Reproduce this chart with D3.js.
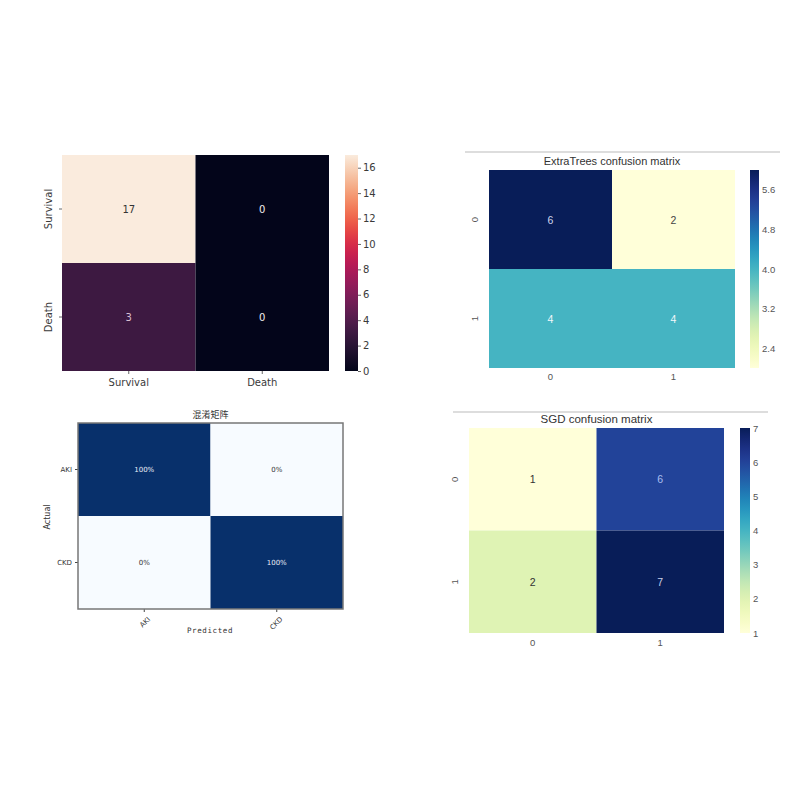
<!DOCTYPE html>
<html><head><meta charset="utf-8">
<script src="https://cdn.jsdelivr.net/npm/d3@7"></script>
<style>body{margin:0;background:#fff}svg{display:block}</style>
</head><body>
<svg id="c" width="806" height="806"></svg>
<script>
// ---------- DATA ----------
const p1Labels = ["Survival", "Death"];
const p1Values = [[17, 0], [3, 0]];
const p1Ticks = [0, 2, 4, 6, 8, 10, 12, 14, 16];

const p2Title = "ExtraTrees confusion matrix";
const p2Labels = ["0", "1"];
const p2Values = [[6, 2], [4, 4]];
const p2Ticks = [2.4, 3.2, 4.0, 4.8, 5.6];

const p3Title = "混淆矩阵";
const p3Labels = ["AKI", "CKD"];
const p3Values = [[1.0, 0.0], [0.0, 1.0]];
const p3Text = [["100%", "0%"], ["0%", "100%"]];

const p4Title = "SGD confusion matrix";
const p4Labels = ["0", "1"];
const p4Values = [[1, 6], [2, 7]];
const p4Ticks = [1, 2, 3, 4, 5, 6, 7];

// ---------- HELPERS ----------
const svg = d3.select("#c");
const defs = svg.append("defs");
const rocketStops = ["#03051A","#221331","#451C47","#6A1F56","#921C5B","#B91657","#DD2C45","#F06043","#F4936A","#F6C19F","#FAEBDD"];
const rocket = d3.interpolateRgbBasis(rocketStops);

function heatmap(o) {
  const g = svg.append("g");
  const x = d3.scaleBand().domain(o.labels).range([o.x0, o.x1]);
  const y = d3.scaleBand().domain(o.labels).range([o.y0, o.y1]);
  const color = d3.scaleSequential(o.interp).domain(o.domain);
  const cells = [];
  o.values.forEach((row, i) => row.forEach((v, j) => cells.push({r: o.labels[i], c: o.labels[j], v, i, j})));
  g.selectAll("rect.cell").data(cells).join("rect")
    .attr("x", d => x(d.c)).attr("y", d => y(d.r))
    .attr("width", x.bandwidth()).attr("height", y.bandwidth())
    .attr("fill", d => color(d.v));
  g.selectAll("text.cell").data(cells).join("text")
    .attr("x", d => x(d.c) + x.bandwidth() / 2)
    .attr("y", d => y(d.r) + y.bandwidth() / 2)
    .attr("text-anchor", "middle").attr("dominant-baseline", "central")
    .attr("font-family", o.font).attr("font-size", o.cellFont)
    .attr("fill", d => o.textColor(d))
    .text(d => o.text ? o.text[d.i][d.j] : d.v);
  const ax = g.append("g").attr("class", "xaxis").attr("transform", `translate(0,${o.y1})`)
    .call(d3.axisBottom(x).tickSize(o.tickLen).tickPadding(o.xPad));
  const ay = g.append("g").attr("transform", `translate(${o.x0},0)`)
    .call(d3.axisLeft(y).tickSize(o.tickLen).tickPadding(o.yPad));
  [ax, ay].forEach(a => {
    a.select(".domain").remove();
    a.selectAll("line").attr("stroke", o.tickColor);
    a.selectAll("text").attr("font-family", o.font).attr("font-size", o.tickFont).attr("fill", o.labelColor);
  });
  if (o.rotateY) {
    ay.selectAll("text").attr("text-anchor", "middle").attr("dy", 0)
      .attr("transform", function() {
        const t = d3.select(this); const xx = +t.attr("x");
        return `translate(${xx - 3},0) rotate(-90)`;
      }).attr("x", 0);
  }
  if (o.colorbar) {
    const cb = o.colorbar;
    const id = "grad" + cb.id;
    const lg = defs.append("linearGradient").attr("id", id).attr("x1", 0).attr("y1", 1).attr("x2", 0).attr("y2", 0);
    d3.range(0, 1.0001, 0.05).forEach(t => lg.append("stop").attr("offset", t).attr("stop-color", o.interp(t)));
    g.append("rect").attr("x", cb.x).attr("y", o.y0).attr("width", cb.w).attr("height", o.y1 - o.y0).attr("fill", `url(#${id})`);
    const cs = d3.scaleLinear().domain(o.domain).range([o.y1, o.y0]);
    const ac = g.append("g").attr("transform", `translate(${cb.x + cb.w},0)`)
      .call(d3.axisRight(cs).tickValues(cb.ticks).tickFormat(cb.fmt).tickSize(cb.tickLen).tickPadding(cb.pad || 2));
    ac.select(".domain").remove();
    ac.selectAll("line").attr("stroke", o.tickColor);
    ac.selectAll("text").attr("font-family", o.font).attr("font-size", o.tickFont).attr("fill", o.labelColor);
  }
  if (o.title) {
    g.append("text").attr("x", (o.x0 + o.x1) / 2 + (o.titleDx || 0)).attr("y", o.titleY)
      .attr("text-anchor", "middle").attr("font-family", o.titleFont || o.font)
      .attr("font-size", o.titleSize).attr("fill", "#333").text(o.title);
  }
  return {g, x, y, ax, ay};
}

// ---------- PANEL 1 ----------
heatmap({
  labels: p1Labels, values: p1Values, x0: 62, x1: 329, y0: 155, y1: 371,
  interp: rocket, domain: [0, 17], font: "DejaVu Sans", cellFont: 10, tickFont: 10,
  tickLen: 3, xPad: 5, yPad: 4, tickColor: "#666", labelColor: "#3a3a3a", rotateY: true,
  textColor: d => d.v > 10 ? "#333" : (d.v > 0 ? "#d9bfd2" : "#eee"),
  colorbar: {id: 1, x: 345, w: 13, ticks: p1Ticks, fmt: d3.format("d"), tickLen: 3}
});

// ---------- PANEL 2 ----------
svg.append("line").attr("x1", 465).attr("x2", 780).attr("y1", 152).attr("y2", 152).attr("stroke", "#ddd").attr("stroke-width", 2);
heatmap({
  labels: p2Labels, values: p2Values, x0: 489, x1: 735, y0: 170, y1: 368,
  interp: d3.interpolateYlGnBu, domain: [2, 6], font: "Liberation Sans", cellFont: 10.5, tickFont: 9.5,
  tickLen: 0, xPad: 5, yPad: 8, tickColor: "#fff", labelColor: "#555", rotateY: true,
  textColor: d => d.v === 2 ? "#444" : (d.v >= 6 ? "#cfd6ee" : "#f4f8fb"),
  colorbar: {id: 2, x: 750, w: 9, ticks: p2Ticks, fmt: d3.format(".1f"), tickLen: 0, pad: 3},
  title: p2Title, titleY: 165, titleSize: 11
});

// ---------- PANEL 3 ----------
const h3 = heatmap({
  labels: p3Labels, values: p3Values, text: p3Text, x0: 78, x1: 343, y0: 423, y1: 609,
  interp: d3.interpolateBlues, domain: [0, 1], font: "DejaVu Sans", cellFont: 7, tickFont: 7,
  tickLen: 3, xPad: 3, yPad: 3, tickColor: "#444", labelColor: "#333", rotateY: false,
  textColor: d => d.v > 0.5 ? "#e8eef8" : "#333",
  title: p3Title, titleY: 418, titleSize: 9, titleFont: "Noto Sans CJK SC"
});
h3.g.append("rect").attr("x", 78).attr("y", 423).attr("width", 265).attr("height", 186)
  .attr("fill", "none").attr("stroke", "#777").attr("stroke-width", 1.5);
h3.ax.selectAll("text")
  .attr("text-anchor", "end").attr("dy", "0.3em").attr("transform", "rotate(-45)")
  .attr("x", -3).attr("y", 10);
h3.g.append("text").attr("x", 210).attr("y", 633).attr("text-anchor", "middle")
  .attr("font-family", "DejaVu Sans Mono").attr("font-size", 7.5).attr("letter-spacing", 0.6).attr("fill", "#333").text("Predicted");
h3.g.append("text").attr("transform", "translate(50,517) rotate(-90)").attr("text-anchor", "middle")
  .attr("font-family", "DejaVu Sans").attr("font-size", 8).attr("fill", "#333").text("Actual");

// ---------- PANEL 4 ----------
svg.append("line").attr("x1", 453).attr("x2", 768).attr("y1", 412).attr("y2", 412).attr("stroke", "#ddd").attr("stroke-width", 2);
heatmap({
  labels: p4Labels, values: p4Values, x0: 469, x1: 724, y0: 428, y1: 633,
  interp: d3.interpolateYlGnBu, domain: [1, 7], font: "Liberation Sans", cellFont: 10.5, tickFont: 9.5,
  tickLen: 0, xPad: 6, yPad: 8, tickColor: "#fff", labelColor: "#555", rotateY: true,
  textColor: d => d.v <= 2 ? "#333" : (d.v >= 7 ? "#c8d0ea" : "#a9bff0"),
  colorbar: {id: 4, x: 740, w: 10, ticks: p4Ticks, fmt: d3.format("d"), tickLen: 0, pad: 3},
  title: p4Title, titleY: 423, titleSize: 11.5
});
</script>
</body></html>
